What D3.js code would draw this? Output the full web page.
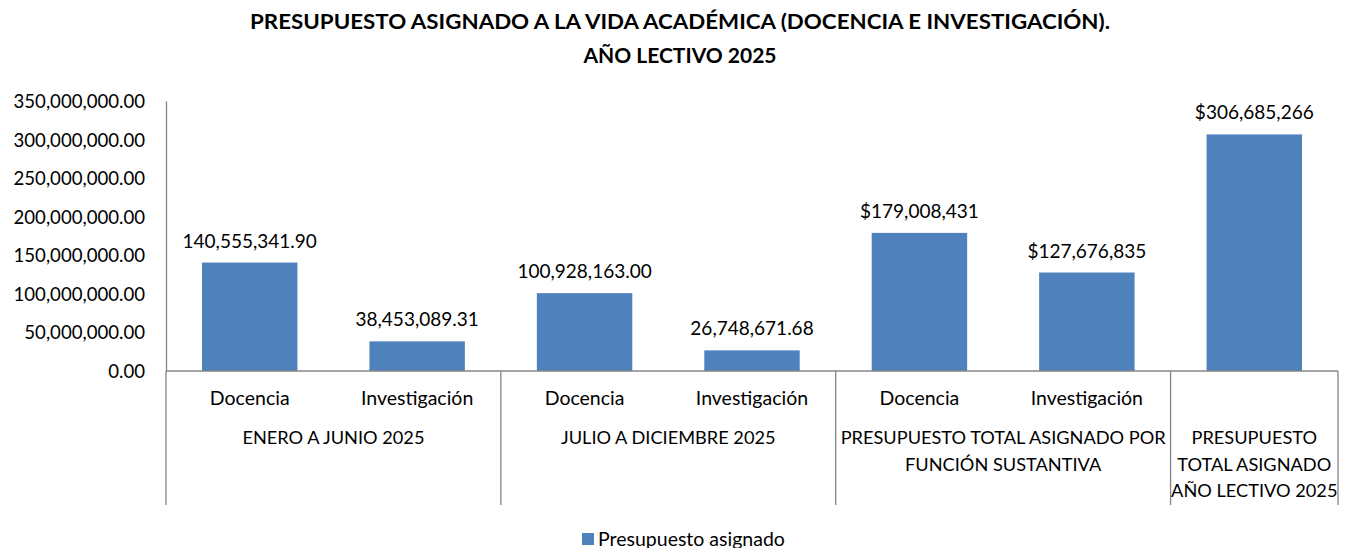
<!DOCTYPE html>
<html lang="es">
<head>
	<meta charset="UTF-8">
	<title>Presupuesto asignado</title>
	<style>
		html, body {width: 100%; height: 100%; padding: 0; margin: 0; background: #fff;}
		svg text {font-family: Lato, "Open Sans", sans-serif; fill: #000;}
		.axis path, .axis line {stroke: #868686;}
	</style>
	<script src="https://d3js.org/d3.v7.min.js"></script>
</head>
<body>
<script>
	// categories along the x axis, the group each belongs to, and the values
	var categories = ['Docencia', 'Investigación', 'Docencia', 'Investigación', 'Docencia', 'Investigación', ''];
	var groupOf = [0, 0, 1, 1, 2, 2, 3];
	var groups = [
		['ENERO A JUNIO 2025'],
		['JULIO A DICIEMBRE 2025'],
		['PRESUPUESTO TOTAL ASIGNADO POR', 'FUNCIÓN SUSTANTIVA'],
		['PRESUPUESTO', 'TOTAL ASIGNADO', 'AÑO LECTIVO 2025']
	];
	var values = [140555341.90, 38453089.31, 100928163.00, 26748671.68, 179008431, 127676835, 306685266];
	// how each data label is written: plain number or currency
	var labelKind = ['num', 'num', 'num', 'num', 'cur', 'cur', 'cur'];
	var yTicks = [0, 50e6, 100e6, 150e6, 200e6, 250e6, 300e6, 350e6];
	var seriesName = 'Presupuesto asignado';
</script>

<script>
	var width = 1346, height = 548;
	var margin = {left: 166, right: 8, top: 101, bottom: 177};
	var barColor = '#4F81BD';
	var gridColor = '#868686';

	var svg = d3.select('body').append('svg')
		.attr('width', width)
		.attr('height', height);

	// title
	var title = svg.append('text')
		.attr('text-anchor', 'middle')
		.attr('font-weight', 'bold')
		.attr('font-size', 21);
	title.append('tspan').attr('x', 680).attr('y', 29)
		.attr('textLength', 860).attr('lengthAdjust', 'spacingAndGlyphs')
		.text('PRESUPUESTO ASIGNADO A LA VIDA ACADÉMICA (DOCENCIA E INVESTIGACIÓN).');
	title.append('tspan').attr('x', 680).attr('y', 63)
		.text('AÑO LECTIVO 2025');

	var x = d3.scaleBand()
		.domain(d3.range(categories.length))
		.range([margin.left, width - margin.right])
		.paddingInner(0.43)
		.paddingOuter(0.215);

	var y = d3.scaleLinear()
		.domain([0, 350e6])
		.range([height - margin.bottom, margin.top]);

	var baseY = y(0);

	// y axis
	var yAxis = svg.append('g')
		.attr('class', 'axis')
		.attr('transform', 'translate(' + margin.left + ',0)')
		.call(d3.axisLeft(y).tickValues(yTicks).tickSize(0).tickPadding(21)
			.tickFormat(d3.format(',.2f')));
	yAxis.selectAll('text').attr('font-size', 18.6).attr('dy', '0.35em');
	yAxis.select('.domain').attr('stroke-width', 1.3);

	// bars
	svg.selectAll('.bar')
		.data(values)
		.enter().append('rect')
		.attr('class', 'bar')
		.attr('x', function (d, i) { return x(i); })
		.attr('y', function (d) { return y(d); })
		.attr('width', x.bandwidth())
		.attr('height', function (d) { return baseY - y(d); })
		.attr('fill', barColor);

	// data labels
	var fmtNum = d3.format(',.2f');
	var fmtCur = d3.format('$,.0f');
	svg.selectAll('.vlabel')
		.data(values)
		.enter().append('text')
		.attr('class', 'vlabel')
		.attr('text-anchor', 'middle')
		.attr('font-size', 19)
		.attr('x', function (d, i) { return x(i) + x.bandwidth() / 2; })
		.attr('y', function (d) { return y(d) - 15; })
		.text(function (d, i) { return labelKind[i] === 'cur' ? fmtCur(d) : fmtNum(d); });

	// category axis: baseline + group separators
	var x0 = x.range()[0], x1 = x.range()[1], step = x.step();
	svg.append('line')
		.attr('x1', x0).attr('x2', x1)
		.attr('y1', baseY).attr('y2', baseY)
		.attr('stroke', gridColor).attr('stroke-width', 1.3);

	var sepIdx = [];
	groupOf.forEach(function (g, i) { if (i === 0 || groupOf[i - 1] !== g) sepIdx.push(i); });
	sepIdx.push(categories.length);
	svg.selectAll('.sep')
		.data(sepIdx)
		.enter().append('line')
		.attr('class', 'sep')
		.attr('x1', function (d) { return x0 + d * step; })
		.attr('x2', function (d) { return x0 + d * step; })
		.attr('y1', baseY)
		.attr('y2', 505)
		.attr('stroke', gridColor).attr('stroke-width', 1.3);

	svg.selectAll('.clabel')
		.data(categories)
		.enter().append('text')
		.attr('class', 'clabel')
		.attr('text-anchor', 'middle')
		.attr('font-size', 19.5)
		.attr('x', function (d, i) { return x(i) + x.bandwidth() / 2; })
		.attr('y', 405)
		.text(function (d) { return d; });

	groups.forEach(function (lines, g) {
		var a = sepIdx[g], b = sepIdx[g + 1];
		var cx = x0 + (a + b) / 2 * step;
		var t = svg.append('text')
			.attr('text-anchor', 'middle')
			.attr('font-size', 18.2);
		lines.forEach(function (s, k) {
			t.append('tspan').attr('x', cx).attr('y', 444 + k * 26.5).text(s);
		});
	});

	// legend
	var legend = svg.append('g').attr('transform', 'translate(582,533)');
	legend.append('rect').attr('width', 12).attr('height', 12).attr('fill', barColor);
	legend.append('text').attr('x', 16).attr('y', 12.5).attr('font-size', 19.5).text(seriesName);
</script>
</body>
</html>
